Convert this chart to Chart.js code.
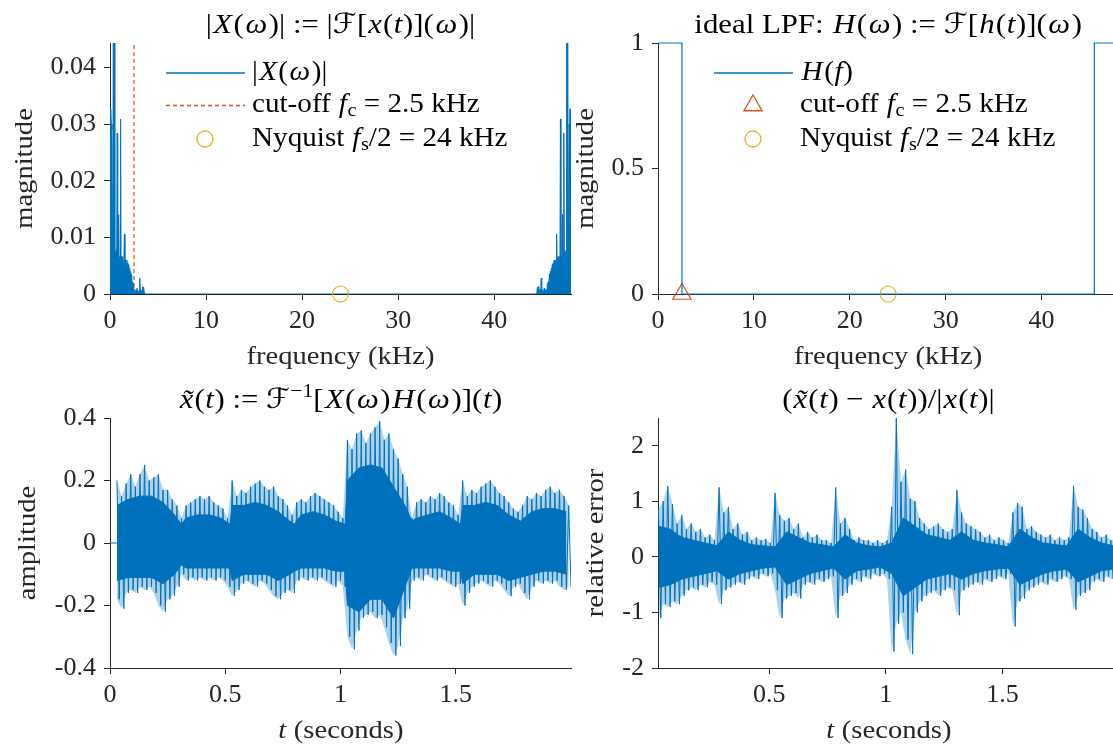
<!DOCTYPE html>
<html>
<head>
<meta charset="utf-8">
<script src="https://cdn.jsdelivr.net/npm/chart.js@4.4.1/dist/chart.umd.min.js"></script>
<style>
  html, body { margin: 0; padding: 0; background: #fff; overflow: hidden; width: 1113px; height: 746px; }
  canvas { position: absolute; left: 0; top: 0; }
</style>
</head>
<body>
<canvas id="specChart" width="1130" height="746"></canvas>
<canvas id="lpfChart" width="1130" height="746"></canvas>
<canvas id="ampChart" width="1130" height="746"></canvas>
<canvas id="errChart" width="1130" height="746"></canvas>
<script>
// ---- data ----
// |X(w)| near 0 Hz, one value every 0.05 kHz starting at 0 kHz
const specLoStart = 0, specStep = 0.05;
const specLoMag = [
  0.0327, 0.0300, 0.0327, 0.0290, 0.0300, 0.0120, 0.0040, 0.0600, 0.0030, 0.0500,
  0.0030, 0.0075, 0.0020, 0.0078, 0.0060, 0.0284, 0.0050, 0.0066, 0.0140, 0.0050,
  0.0066, 0.0040, 0.0309, 0.0060, 0.0066, 0.0066, 0.0040, 0.0066, 0.0050, 0.0062,
  0.0106, 0.0040, 0.0060, 0.0058, 0.0045, 0.0060, 0.0050, 0.0055, 0.0040, 0.0052,
  0.0042, 0.0045, 0.0030, 0.0040, 0.0025, 0.0035, 0.0015, 0.0022, 0.0010, 0.0019,
  0.0004, 0.0003, 0.0006, 0.0003, 0.0008, 0.0004, 0.0010, 0.0003, 0.0004, 0.0002,
  0.0006, 0.0003, 0.0028, 0.0004, 0.0008, 0.0003, 0.0006, 0.0003, 0.0013, 0.0004,
  0.0012, 0.0003, 0.0002, 0.0000
];
// mirrored half near 48 kHz, starting at 44.35 kHz
const specHiStart = 44.35;
const specHiMag = [
  0.0000, 0.0002, 0.0003, 0.0012, 0.0004, 0.0013, 0.0003, 0.0006, 0.0003, 0.0008,
  0.0004, 0.0028, 0.0003, 0.0006, 0.0002, 0.0004, 0.0003, 0.0010, 0.0004, 0.0008,
  0.0003, 0.0006, 0.0003, 0.0004, 0.0019, 0.0010, 0.0022, 0.0015, 0.0035, 0.0025,
  0.0040, 0.0030, 0.0045, 0.0042, 0.0052, 0.0040, 0.0055, 0.0050, 0.0060, 0.0045,
  0.0058, 0.0060, 0.0040, 0.0106, 0.0062, 0.0050, 0.0066, 0.0040, 0.0066, 0.0066,
  0.0060, 0.0309, 0.0040, 0.0066, 0.0050, 0.0140, 0.0066, 0.0050, 0.0284, 0.0060,
  0.0078, 0.0020, 0.0075, 0.0030, 0.0500, 0.0030, 0.0600, 0.0040, 0.0120, 0.0300,
  0.0290, 0.0327, 0.0300, 0.0327
];
const cutoffKHz = 2.5;
const nyquistKHz = 24;

// ideal low-pass filter H(f)
const lpfFreq = [0, 2.5, 2.5, 45.5, 45.5, 48];
const lpfMag  = [1, 1, 0, 0, 1, 1];

// filtered signal: spike peak / trough every 0.02 s from 0.03 s
const ampStart = 0.03, ampStep = 0.02;
const ampLeadT = [0, 0.03];
const ampLeadY = [0, 0];
const ampUpper = [
  0.20, 0.15, 0.19, 0.22, 0.18, 0.22, 0.25, 0.20, 0.21, 0.22,
  0.17, 0.17, 0.14, 0.12, 0.08, 0.12, 0.13, 0.14, 0.15, 0.14,
  0.15, 0.13, 0.12, 0.11, 0.08, 0.20, 0.15, 0.17, 0.16, 0.18,
  0.19, 0.20, 0.18, 0.17, 0.18, 0.15, 0.14, 0.12, 0.09, 0.13,
  0.14, 0.13, 0.15, 0.16, 0.15, 0.14, 0.13, 0.12, 0.10, 0.08,
  0.33, 0.30, 0.35, 0.36, 0.32, 0.35, 0.37, 0.39, 0.33, 0.35,
  0.30, 0.27, 0.22, 0.18, 0.08, 0.13, 0.14, 0.13, 0.15, 0.14,
  0.16, 0.15, 0.13, 0.12, 0.09, 0.20, 0.15, 0.17, 0.16, 0.18,
  0.19, 0.20, 0.18, 0.16, 0.15, 0.13, 0.11, 0.10, 0.12, 0.15,
  0.14, 0.16, 0.15, 0.17, 0.18, 0.16, 0.17, 0.15, 0.12
];
const ampLower = [
  -0.18, -0.21, -0.16, -0.15, -0.16, -0.14, -0.15, -0.14, -0.16, -0.20,
  -0.22, -0.18, -0.17, -0.14, -0.10, -0.12, -0.11, -0.12, -0.11, -0.12,
  -0.11, -0.12, -0.11, -0.12, -0.14, -0.17, -0.15, -0.13, -0.12, -0.13,
  -0.14, -0.12, -0.13, -0.15, -0.17, -0.18, -0.16, -0.15, -0.16, -0.12,
  -0.11, -0.12, -0.11, -0.12, -0.11, -0.12, -0.13, -0.14, -0.12, -0.14,
  -0.30, -0.34, -0.28, -0.24, -0.23, -0.22, -0.24, -0.23, -0.27, -0.32,
  -0.36, -0.33, -0.24, -0.21, -0.12, -0.11, -0.12, -0.10, -0.11, -0.12,
  -0.11, -0.12, -0.13, -0.14, -0.13, -0.20, -0.16, -0.14, -0.13, -0.12,
  -0.13, -0.14, -0.12, -0.13, -0.15, -0.17, -0.14, -0.13, -0.16, -0.18,
  -0.14, -0.12, -0.13, -0.12, -0.13, -0.12, -0.14, -0.15, -0.14
];
// solid dark core of the filtered signal (breakpoints at the note onsets)
const ampCoreT = [
  0.03, 0.08, 0.13, 0.18, 0.23, 0.28, 0.31, 0.33, 0.38, 0.43,
  0.48, 0.52, 0.53, 0.58, 0.63, 0.68, 0.73, 0.78, 0.80, 0.83,
  0.88, 0.93, 0.98, 1.02, 1.03, 1.08, 1.13, 1.18, 1.23, 1.28,
  1.31, 1.33, 1.38, 1.43, 1.48, 1.52, 1.53, 1.58, 1.63, 1.68,
  1.73, 1.78, 1.83, 1.88, 1.93, 1.98
];
const ampCoreUpper = [
  0.12, 0.14, 0.15, 0.15, 0.13, 0.09, 0.06, 0.08, 0.09, 0.09,
  0.08, 0.06, 0.12, 0.12, 0.13, 0.12, 0.10, 0.07, 0.06, 0.09,
  0.10, 0.09, 0.07, 0.06, 0.20, 0.24, 0.25, 0.24, 0.18, 0.12,
  0.07, 0.08, 0.09, 0.10, 0.08, 0.06, 0.12, 0.12, 0.13, 0.12,
  0.09, 0.07, 0.10, 0.11, 0.11, 0.10
];
const ampCoreLower = [
  -0.12, -0.11, -0.11, -0.11, -0.13, -0.10, -0.07, -0.08, -0.08, -0.08,
  -0.08, -0.08, -0.12, -0.10, -0.10, -0.10, -0.12, -0.10, -0.09, -0.08,
  -0.08, -0.08, -0.09, -0.09, -0.20, -0.22, -0.18, -0.18, -0.24, -0.14,
  -0.08, -0.08, -0.08, -0.08, -0.09, -0.09, -0.13, -0.10, -0.10, -0.10,
  -0.12, -0.11, -0.10, -0.09, -0.09, -0.10
];

// relative error: spike peak / trough every 0.02 s from 0.025 s
const errStart = 0.025, errStep = 0.02;
const errUpper = [
  0.85, 1.00, 1.27, 0.95, 0.60, 0.75, 0.50, 0.60, 0.45, 0.50,
  0.35, 0.40, 0.30, 1.25, 0.80, 0.90, 0.50, 0.60, 0.40, 0.45,
  0.30, 0.35, 0.30, 0.32, 0.25, 1.15, 0.75, 0.65, 0.70, 0.50,
  0.60, 0.35, 0.45, 0.35, 0.40, 0.30, 0.30, 0.25, 1.25, 0.60,
  0.70, 0.50, 0.30, 0.35, 0.30, 0.30, 0.25, 0.30, 0.25, 0.30,
  0.90, 2.50, 1.35, 1.57, 1.05, 1.00, 0.70, 0.60, 0.50, 0.55,
  0.60, 0.50, 0.45, 0.50, 1.20, 0.80, 0.60, 0.55, 0.50, 0.45,
  0.35, 0.40, 0.30, 0.35, 0.30, 0.25, 0.80, 0.97, 0.90, 0.50,
  0.55, 0.45, 0.40, 0.35, 0.40, 0.30, 0.35, 0.30, 0.35, 1.28,
  0.90, 0.85, 0.70, 0.50, 0.45, 0.35, 0.40, 0.30, 0.30
];
const errLower = [
  -1.10, -0.85, -0.90, -0.80, -0.85, -0.70, -0.60, -0.55, -0.60, -0.50,
  -0.55, -0.45, -0.50, -0.85, -0.60, -0.55, -0.50, -0.45, -0.50, -0.40,
  -0.35, -0.40, -0.30, -0.35, -0.30, -0.60, -1.10, -0.75, -0.70, -0.65,
  -0.75, -0.50, -0.45, -0.50, -0.40, -0.45, -0.40, -0.35, -1.10, -0.70,
  -0.65, -0.50, -0.40, -0.45, -0.35, -0.40, -0.30, -0.35, -0.30, -0.40,
  -1.70, -1.20, -1.00, -1.49, -1.75, -1.00, -0.80, -0.70, -0.65, -0.60,
  -0.70, -0.60, -0.55, -0.60, -1.05, -0.60, -0.55, -0.50, -0.45, -0.50,
  -0.40, -0.45, -0.40, -0.35, -0.40, -0.30, -1.25, -0.80, -0.75, -0.60,
  -0.55, -0.50, -0.45, -0.50, -0.40, -0.45, -0.40, -0.35, -0.40, -0.95,
  -0.70, -0.65, -0.60, -0.45, -0.40, -0.45, -0.35, -0.40, -0.35
];
// solid dark core of the relative error, every 0.05 s from 0.025 s
const errCoreStart = 0.025, errCoreStep = 0.05;
const errCoreUpper = [
  0.55, 0.50, 0.35, 0.30, 0.25, 0.20, 0.45, 0.30, 0.22, 0.20,
  0.18, 0.45, 0.35, 0.25, 0.22, 0.18, 0.40, 0.25, 0.20, 0.18,
  0.25, 0.70, 0.55, 0.40, 0.35, 0.30, 0.45, 0.30, 0.25, 0.22,
  0.18, 0.50, 0.35, 0.25, 0.22, 0.20, 0.50, 0.35, 0.25, 0.20
];
const errCoreLower = [
  -0.55, -0.50, -0.40, -0.35, -0.30, -0.25, -0.40, -0.30, -0.25, -0.20,
  -0.18, -0.50, -0.40, -0.30, -0.25, -0.20, -0.40, -0.25, -0.22, -0.18,
  -0.30, -0.70, -0.55, -0.40, -0.35, -0.30, -0.40, -0.30, -0.25, -0.22,
  -0.20, -0.50, -0.40, -0.30, -0.25, -0.22, -0.45, -0.35, -0.25, -0.22
];

// axis ticks
const freqTicks = [0, 10, 20, 30, 40];
const freqLabels = ['0', '10', '20', '30', '40'];
const specTicks = [0, 0.01, 0.02, 0.03, 0.04];
const specLabels = ['0', '0.01', '0.02', '0.03', '0.04'];
const lpfTicks = [0, 0.5, 1];
const lpfLabels = ['0', '0.5', '1'];
const timeTicks = [0, 0.5, 1, 1.5];
const timeLabels = ['0', '0.5', '1', '1.5'];
const errTimeTicks = [0.5, 1, 1.5];
const errTimeLabels = ['0.5', '1', '1.5'];
const ampTicks = [-0.4, -0.2, 0, 0.2, 0.4];
const ampLabels = ['-0.4', '-0.2', '0', '0.2', '0.4'];
const errTicks = [-2, -1, 0, 1, 2];
const errLabels = ['-2', '-1', '0', '1', '2'];

// ---- drawing ----
const BLUE = '#0072BD', ORANGE = '#D95319', YELLOW = '#EDB120', INK = '#262626';
const LIGHT = 'rgba(0, 114, 189, 0.32)';
const FONT = '"Liberation Serif", "DejaVu Serif", "DejaVu Sans", serif';
const CW = 1130, CH = 746, YW = 100, XH = 60;
const STRETCH = 1.1, ITALIC_PAD = 0.15;

function grid(start, step, n) {
  const out = [];
  for (let i = 0; i < n; i++) out.push(+(start + i * step).toFixed(4));
  return out;
}
function pts(xs, ys) {
  return ys.map((y, i) => ({ x: xs[i], y: y }));
}
// peak at t, trough half a step later, so the line swings across the band
function zigzag(ts, step, up, lo) {
  const out = [];
  ts.forEach((t, i) => {
    out.push({ x: t, y: up[i] });
    out.push({ x: +(t + step / 2).toFixed(4), y: lo[i] });
  });
  return out;
}

// tiny markup: {i:..} italic, {b:..} subscript, {p:..} superscript
function parse(str) {
  const out = [], re = /\{([ibp]):([^}]*)\}/g;
  let last = 0, m;
  while ((m = re.exec(str))) {
    if (m.index > last) out.push({ t: str.slice(last, m.index), k: 'r' });
    out.push({ t: m[2], k: m[1] });
    last = re.lastIndex;
  }
  if (last < str.length) out.push({ t: str.slice(last), k: 'r' });
  return out;
}
function segFont(s, size) {
  const sz = (s.k === 'b' || s.k === 'p') ? size * 0.7 : size;
  return (s.k === 'i' ? 'italic ' : '') + sz + 'px ' + FONT;
}
function segAdvance(ctx, s, size) {
  ctx.font = segFont(s, size);
  const w = ctx.measureText(s.t).width * STRETCH;
  return s.k === 'i' ? w * (1 + ITALIC_PAD) : w;
}
function drawRich(ctx, str, x, y, size, align) {
  const segs = parse(str);
  let w = 0;
  segs.forEach(s => { w += segAdvance(ctx, s, size); });
  let cx = align === 'center' ? x - w / 2 : x;
  ctx.textAlign = 'left';
  segs.forEach(s => {
    const adv = segAdvance(ctx, s, size);
    ctx.font = segFont(s, size);
    const dy = s.k === 'b' ? size * 0.22 : (s.k === 'p' ? -size * 0.38 : 0);
    const pad = s.k === 'i' ? (adv - adv / (1 + ITALIC_PAD)) / 2 : 0;
    ctx.save();
    ctx.translate(cx + pad, y + dy);
    ctx.scale(STRETCH, 1);
    ctx.fillText(s.t, 0, 0);
    ctx.restore();
    cx += adv;
  });
}

const legendRows = [30, 62.5, 96];
const decoPlugin = {
  id: 'deco',
  afterDraw(chart, args, o) {
    const ctx = chart.ctx, a = chart.chartArea;
    const mid = (a.left + a.right) / 2;
    ctx.save();
    ctx.textBaseline = 'alphabetic';
    ctx.fillStyle = '#000';
    drawRich(ctx, o.title, mid, a.top - 10, 28, 'center');
    ctx.fillStyle = INK;
    drawRich(ctx, o.xlabel, mid, a.bottom + 69.5, 26, 'center');
    ctx.save();
    ctx.translate(a.left + o.ylabelDx, (a.top + a.bottom) / 2);
    ctx.rotate(-Math.PI / 2);
    ctx.textBaseline = 'middle';
    drawRich(ctx, o.ylabel, 0, 0, 26, 'center');
    ctx.restore();

    (o.legend || []).forEach((it, k) => {
      const y = a.top + legendRows[k];
      ctx.save();
      ctx.strokeStyle = it.color;
      ctx.lineWidth = 1.3;
      if (it.kind === 'line') {
        ctx.setLineDash(it.dash || []);
        ctx.beginPath();
        ctx.moveTo(a.left + 56, y);
        ctx.lineTo(a.left + 135, y);
        ctx.stroke();
      } else {
        ctx.fillStyle = 'rgba(0,0,0,0)';
        Chart.helpers.drawPoint(ctx, { pointStyle: it.kind, radius: it.r, borderWidth: 1.2, rotation: 0 }, a.left + 95, y);
      }
      ctx.restore();
      ctx.fillStyle = '#000';
      ctx.textBaseline = 'middle';
      drawRich(ctx, it.text, a.left + 142, y, 26.5, 'left');
    });
    ctx.restore();
  }
};

function axis(min, max, ticks, labels, dir) {
  return {
    type: 'linear', min: min, max: max,
    afterFit: sc => { if (dir === 'x') sc.height = XH; else sc.width = YW; },
    afterBuildTicks: sc => { sc.ticks = ticks.map(v => ({ value: v })); },
    ticks: {
      autoSkip: false, maxRotation: 0, padding: dir === 'x' ? 6 : 8, color: INK,
      font: { family: FONT, size: 26 },
      callback: (v, i) => labels[i]
    },
    grid: { drawOnChartArea: false, drawTicks: true, tickLength: 6, tickColor: INK, tickWidth: 1 },
    border: { display: true, color: INK, width: 1 }
  };
}

function makeChart(id, area, datasets, xAxis, yAxis, deco) {
  return new Chart(document.getElementById(id), {
    type: 'line',
    data: { datasets: datasets },
    options: {
      responsive: false, animation: false, devicePixelRatio: 1,
      layout: { padding: { left: area.l - YW, top: area.t, right: CW - area.r, bottom: CH - area.b - XH } },
      elements: { point: { radius: 0 }, line: { tension: 0 } },
      plugins: { legend: { display: false }, tooltip: { enabled: false }, deco: deco },
      scales: { x: xAxis, y: yAxis }
    },
    plugins: [decoPlugin]
  });
}

// dense signal: zigzag spikes on top, solid dark core, pale band behind
function signalSets(ts, step, up, lo, coreTs, coreUp, coreLo) {
  return [
    { data: zigzag(ts, step, up, lo), borderColor: BLUE, borderWidth: 1 },
    { data: pts(coreTs, coreUp), borderColor: BLUE, borderWidth: 1, backgroundColor: BLUE, fill: '+1' },
    { data: pts(coreTs, coreLo), borderColor: BLUE, borderWidth: 1 },
    { data: pts(ts, up), borderWidth: 0, backgroundColor: LIGHT, fill: '+1' },
    { data: pts(ts, lo), borderWidth: 0 }
  ];
}

// top left: spectrum
const specPts = pts(grid(specLoStart, specStep, specLoMag.length), specLoMag)
  .concat(pts(grid(specHiStart, specStep, specHiMag.length), specHiMag));
makeChart('specChart', { l: 110, t: 43, r: 571, b: 294 }, [
  { data: specPts, borderColor: BLUE, backgroundColor: BLUE, borderWidth: 1, fill: 'origin' },
  { data: [{ x: cutoffKHz, y: 0 }, { x: cutoffKHz, y: 0.0443 }], borderColor: ORANGE, borderWidth: 1.2, borderDash: [4, 3] },
  { data: [{ x: nyquistKHz, y: 0 }], showLine: false, clip: false, pointStyle: 'circle', pointRadius: 8,
    pointBorderColor: YELLOW, pointBackgroundColor: 'rgba(0,0,0,0)', pointBorderWidth: 1.2 }
], axis(0, 48, freqTicks, freqLabels, 'x'), axis(0, 0.0443, specTicks, specLabels, 'y'), {
  title: '|{i:X}({i:ω})| := |ℱ[{i:x}({i:t})]({i:ω})|',
  xlabel: 'frequency (kHz)', ylabel: 'magnitude', ylabelDx: -85,
  legend: [
    { kind: 'line', color: BLUE, text: '|{i:X}({i:ω})|' },
    { kind: 'line', color: ORANGE, dash: [4, 3], text: 'cut-off {i:f}{b:c} = 2.5 kHz' },
    { kind: 'circle', r: 8, color: YELLOW, text: 'Nyquist {i:f}{b:s}/2 = 24 kHz' }
  ]
});

// top right: ideal LPF
makeChart('lpfChart', { l: 658, t: 43, r: 1119, b: 294 }, [
  { data: pts(lpfFreq, lpfMag), borderColor: BLUE, borderWidth: 1.2, clip: 3 },
  { data: [{ x: cutoffKHz, y: 0 }], showLine: false, clip: false, pointStyle: 'triangle', pointRadius: 10.5,
    pointBorderColor: ORANGE, pointBackgroundColor: 'rgba(0,0,0,0)', pointBorderWidth: 1.2 },
  { data: [{ x: nyquistKHz, y: 0 }], showLine: false, clip: false, pointStyle: 'circle', pointRadius: 8,
    pointBorderColor: YELLOW, pointBackgroundColor: 'rgba(0,0,0,0)', pointBorderWidth: 1.2 }
], axis(0, 48, freqTicks, freqLabels, 'x'), axis(0, 1, lpfTicks, lpfLabels, 'y'), {
  title: 'ideal LPF: {i:H}({i:ω}) := ℱ[{i:h}({i:t})]({i:ω})',
  xlabel: 'frequency (kHz)', ylabel: 'magnitude', ylabelDx: -72,
  legend: [
    { kind: 'line', color: BLUE, text: '{i:H}({i:f})' },
    { kind: 'triangle', r: 10.5, color: ORANGE, text: 'cut-off {i:f}{b:c} = 2.5 kHz' },
    { kind: 'circle', r: 8, color: YELLOW, text: 'Nyquist {i:f}{b:s}/2 = 24 kHz' }
  ]
});

// bottom left: filtered signal
const ampT = grid(ampStart, ampStep, ampUpper.length);
makeChart('ampChart', { l: 110, t: 418, r: 571, b: 668 },
  [{ data: pts(ampLeadT, ampLeadY), borderColor: BLUE, borderWidth: 1 }]
    .concat(signalSets(ampT, ampStep, ampUpper, ampLower, ampCoreT, ampCoreUpper, ampCoreLower)),
  axis(0, 2, timeTicks, timeLabels, 'x'), axis(-0.4, 0.4, ampTicks, ampLabels, 'y'), {
  title: '{i:x̃}({i:t}) := ℱ{p:−1}[{i:X}({i:ω}){i:H}({i:ω})]({i:t})',
  xlabel: '{i:t} (seconds)', ylabel: 'amplitude', ylabelDx: -81.5
});

// bottom right: relative error
const errT = grid(errStart, errStep, errUpper.length);
const errCoreT = grid(errCoreStart, errCoreStep, errCoreUpper.length);
makeChart('errChart', { l: 658, t: 418, r: 1119, b: 668 },
  signalSets(errT, errStep, errUpper, errLower, errCoreT, errCoreUpper, errCoreLower),
  axis(0.023, 2, errTimeTicks, errTimeLabels, 'x'), axis(-2, 2.5, errTicks, errLabels, 'y'), {
  title: '({i:x̃}({i:t}) − {i:x}({i:t}))/|{i:x}({i:t})|',
  xlabel: '{i:t} (seconds)', ylabel: 'relative error', ylabelDx: -62
});
</script>
</body>
</html>
